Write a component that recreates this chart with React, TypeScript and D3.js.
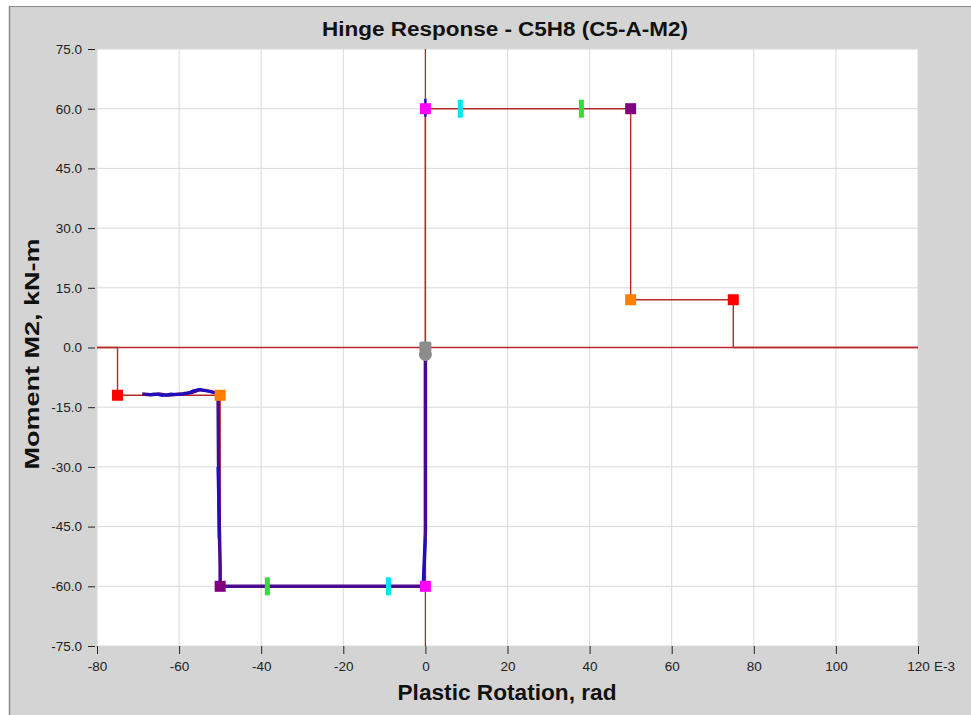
import React, { useEffect, useRef } from 'react';
import * as d3 from 'd3';

// hinge backbone (moment-rotation), rotation in E-3 rad
const backboneX = [-80, -75, -75, -50, -50, 0, 0, 0, 50, 50, 75, 75, 120];
const backboneY = [0, 0, -12, -12, -60, -60, 0, 60, 60, 12, 12, 0, 0];

// response history (purple trace)
const responseX = [0, 0, -0.2, -0.4, -0.5, -50, -50, -50.2, -50.4, -50.5, -51, -53, -55, -57, -59, -61, -63, -65, -67, -69];
const responseY = [-2, -46, -52, -57, -60, -60, -55, -45, -28, -12, -11.4, -10.9, -10.6, -11.3, -11.6, -11.8, -12, -11.7, -11.9, -11.7];

// blue trace segments drawn on top
const blueX = [0, -0.2, -0.5, -0.6];
const blueY = [-48, -53, -58, -61];
const blueX2 = [-50.3, -50.4, -50.6];
const blueY2 = [-48, -40, -30];
const blueX3 = [-50.5, -52, -53.5, -55, -56.5, -58, -60, -62, -64, -66, -68];
const blueY3 = [-11.6, -11.2, -10.9, -10.5, -10.8, -11.5, -11.9, -11.6, -12.1, -11.7, -11.9];
const blueX4 = [0, 0];
const blueY4 = [58, 62.5];

// state points
const stateX = [0, 50, 50, 75, 0, -50, -50, -75];
const stateY = [60, 60, 12, 12, -60, -60, -12, -12];
const stateColor = ['#ff00ff', '#800080', '#ff8000', '#ff0000', '#ff00ff', '#800080', '#ff8000', '#ff0000'];

// acceptance criteria marks (IO, LS)
const accX = [8.5, 38, -9, -38.5];
const accY = [60, 60, -60, -60];
const accColor = ['#00e5ee', '#33dd33', '#00e5ee', '#33dd33'];

const xTicks = [-80, -60, -40, -20, 0, 20, 40, 60, 80, 100, 120];
const yTicks = [75, 60, 45, 30, 15, 0, -15, -30, -45, -60, -75];

const App = () => {
  const ref = useRef<SVGSVGElement | null>(null);

  useEffect(() => {
    drawChart();
  }, []);

  const drawChart = () => {
    const svg = d3.select(ref.current);
    svg.selectAll('*').remove();

    const W = 971;
    const H = 715;
    const left = 97, right = 918, top = 49, bottom = 646;
    const font = 'Liberation Sans, Arial, sans-serif';
    const red = '#b8282a';

    const x = d3.scaleLinear().domain([-80, 120]).range([left, right]);
    const y = d3.scaleLinear().domain([-75, 75]).range([bottom, top]);

    // background panel
    svg.append('rect').attr('width', W).attr('height', H).attr('fill', '#ffffff');
    svg.append('rect').attr('x', 9).attr('y', 6).attr('width', W - 9).attr('height', H - 6).attr('fill', '#d4d4d4');
    svg.append('line').attr('x1', 9.5).attr('x2', 9.5).attr('y1', 6).attr('y2', H).attr('stroke', '#8a8a8a').attr('stroke-width', 1.5);
    svg.append('line').attr('x1', 9).attr('x2', W).attr('y1', 6.5).attr('y2', 6.5).attr('stroke', '#8a8a8a').attr('stroke-width', 1);

    svg.append('rect').attr('x', left).attr('y', top).attr('width', right - left).attr('height', bottom - top).attr('fill', '#ffffff');

    const g = svg.append('g');

    // grid
    g.selectAll('.vgrid').data(xTicks).enter().append('line')
      .attr('x1', d => x(d)).attr('x2', d => x(d)).attr('y1', top).attr('y2', bottom)
      .attr('stroke', '#d9d9d9').attr('stroke-width', 1);
    g.selectAll('.hgrid').data(yTicks).enter().append('line')
      .attr('x1', left).attr('x2', right).attr('y1', d => y(d)).attr('y2', d => y(d))
      .attr('stroke', '#d9d9d9').attr('stroke-width', 1);

    // axes
    const xAxis = g.append('g').attr('transform', `translate(0,${bottom})`)
      .call(d3.axisBottom(x).tickValues(xTicks).tickSize(8).tickPadding(7).tickFormat(d => String(d)));
    xAxis.select('.domain').remove();
    xAxis.selectAll('line').attr('stroke', '#222');
    xAxis.selectAll('text').attr('font-family', font).attr('font-size', 13.5).attr('fill', '#222');

    const yAxis = g.append('g').attr('transform', `translate(${left - 2},0)`)
      .call(d3.axisLeft(y).tickValues(yTicks).tickSize(7).tickPadding(6).tickFormat(d => (+d).toFixed(1)));
    yAxis.select('.domain').remove();
    yAxis.selectAll('line').attr('stroke', '#222');
    yAxis.selectAll('text').attr('font-family', font).attr('font-size', 13.5).attr('fill', '#222');

    g.append('text').attr('x', 934).attr('y', 671)
      .attr('font-family', font).attr('font-size', 13.5).attr('fill', '#222').text('E-3');

    // zero axes
    g.append('line').attr('x1', left).attr('x2', right).attr('y1', y(0)).attr('y2', y(0))
      .attr('stroke', red).attr('stroke-width', 1.3);
    g.append('line').attr('x1', x(0)).attr('x2', x(0)).attr('y1', top).attr('y2', bottom)
      .attr('stroke', red).attr('stroke-width', 1.3);

    const pts = (xs: number[], ys: number[]) => xs.map((v, i) => [x(v), y(ys[i])] as [number, number]);

    // backbone
    g.append('path').attr('d', d3.line()(pts(backboneX, backboneY)))
      .attr('fill', 'none').attr('stroke', red).attr('stroke-width', 1.4);

    // response
    g.append('path').attr('d', d3.line()(pts(responseX, responseY)))
      .attr('fill', 'none').attr('stroke', '#4b0a8c').attr('stroke-width', 3.5).attr('stroke-linejoin', 'round');
    [[blueX, blueY], [blueX2, blueY2], [blueX3, blueY3], [blueX4, blueY4]].forEach(([xs, ys]) => {
      g.append('path').attr('d', d3.line()(pts(xs, ys)))
        .attr('fill', 'none').attr('stroke', '#1a0fc8').attr('stroke-width', 2.5).attr('stroke-linejoin', 'round');
    });

    // acceptance marks
    g.selectAll('.acc').data(accX).enter().append('rect')
      .attr('x', d => x(d) - 2.5).attr('y', (d, i) => y(accY[i]) - 9)
      .attr('width', 5).attr('height', 18)
      .attr('fill', (d, i) => accColor[i]);

    // state points
    g.selectAll('.state').data(stateX).enter().append('rect')
      .attr('x', d => x(d) - 5.5).attr('y', (d, i) => y(stateY[i]) - 5.5)
      .attr('width', 11).attr('height', 11)
      .attr('fill', (d, i) => stateColor[i]);

    // current point
    g.append('rect').attr('x', x(0) - 6).attr('y', y(0) - 6).attr('width', 12).attr('height', 11).attr('rx', 2)
      .attr('fill', '#8c8c8c');
    g.append('circle').attr('cx', x(0)).attr('cy', y(0) + 7).attr('r', 6.5).attr('fill', '#8c8c8c');

    // titles
    svg.append('text').attr('x', 505).attr('y', 36).attr('text-anchor', 'middle')
      .attr('font-family', font).attr('font-weight', 'bold').attr('font-size', 20).attr('fill', '#111')
      .attr('textLength', 366).attr('lengthAdjust', 'spacingAndGlyphs')
      .text('Hinge Response - C5H8 (C5-A-M2)');
    svg.append('text').attr('x', 507).attr('y', 700).attr('text-anchor', 'middle')
      .attr('font-family', font).attr('font-weight', 'bold').attr('font-size', 22.5).attr('fill', '#111')
      .attr('textLength', 219).attr('lengthAdjust', 'spacingAndGlyphs')
      .text('Plastic Rotation, rad');
    svg.append('text').attr('transform', `translate(39,354) rotate(-90)`).attr('text-anchor', 'middle')
      .attr('font-family', font).attr('font-weight', 'bold').attr('font-size', 20.5).attr('fill', '#111')
      .attr('textLength', 231).attr('lengthAdjust', 'spacingAndGlyphs')
      .text('Moment M2, kN-m');
  };

  return (
    <svg ref={ref} width={971} height={715} style={{ position: 'absolute', left: 0, top: 0 }} />
  );
};

export default App;
